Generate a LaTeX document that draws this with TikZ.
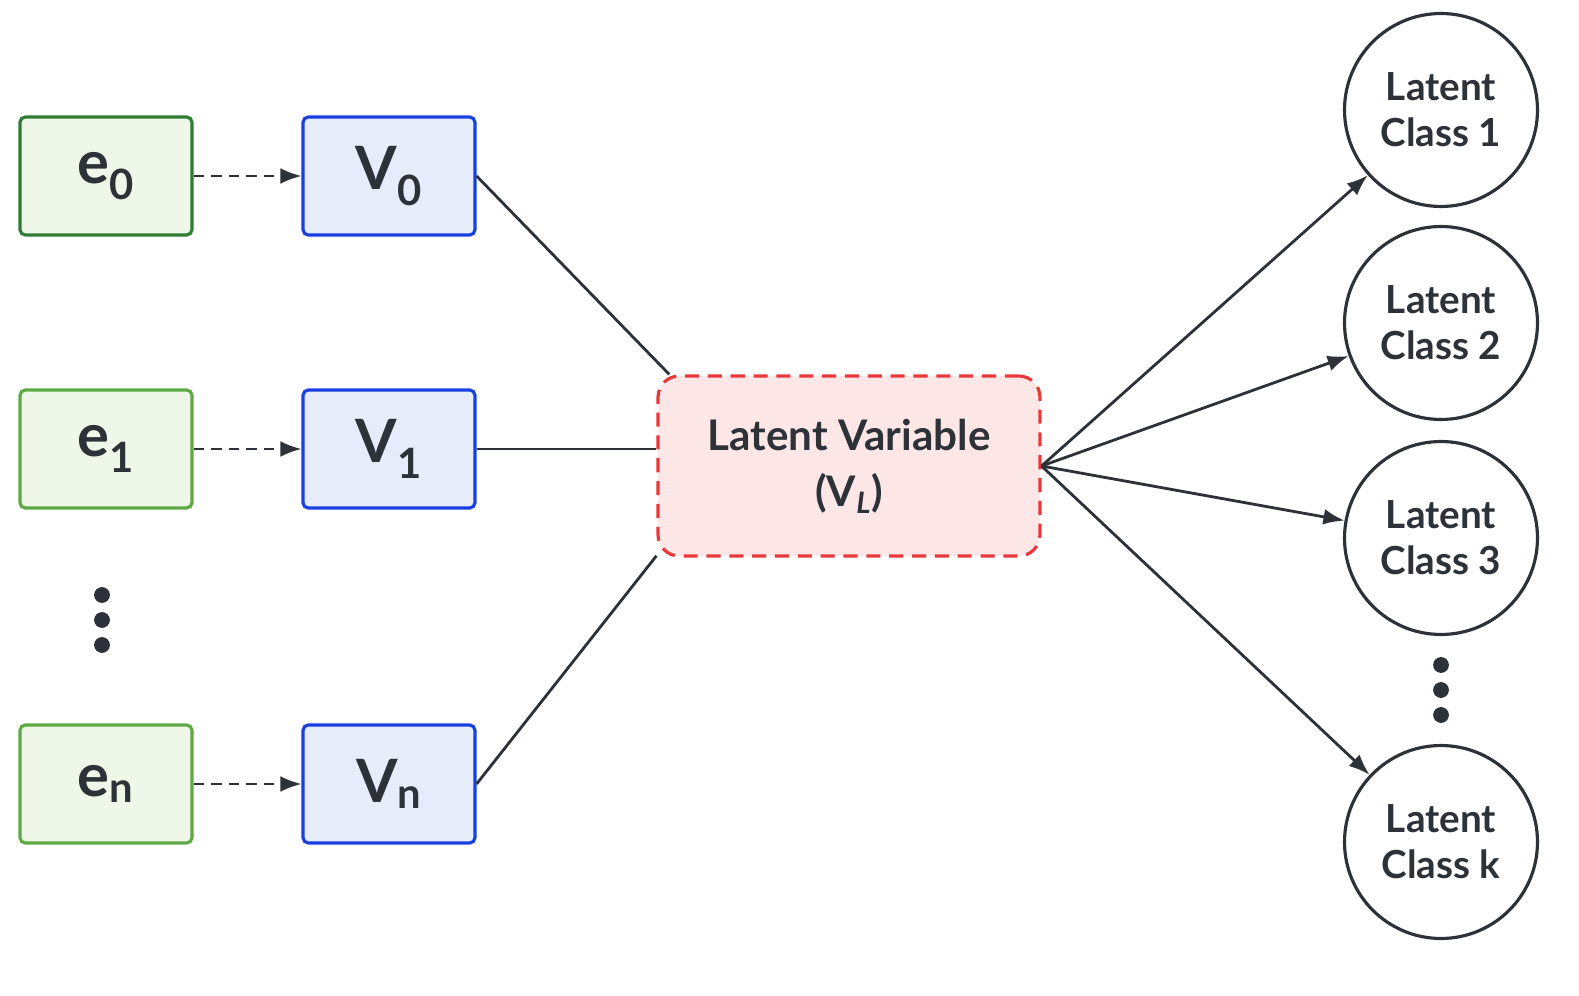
\documentclass[tikz,border=0pt]{standalone}
\usepackage{fontspec}
\setmainfont{Lato}
\usetikzlibrary{arrows.meta,positioning}
\definecolor{egreen}{HTML}{2E7D32}
\definecolor{lgreen}{HTML}{5DAA45}
\definecolor{gfill}{HTML}{EEF7E8}
\definecolor{vblue}{HTML}{1A3FE0}
\definecolor{bfill}{HTML}{E6ECFA}
\definecolor{lred}{HTML}{E8383A}
\definecolor{rfill}{HTML}{FDE7E6}
\definecolor{ink}{HTML}{2D3138}
\begin{document}
\begin{tikzpicture}[x=0.02cm,y=-0.02cm,font=\bfseries,text=ink,
  ebox/.style={draw=lgreen,fill=gfill,line width=1.8pt,rounded corners=3pt,minimum width=3.44cm,minimum height=2.36cm,font=\fontsize{34}{36}\selectfont\bfseries},
  vbox/.style={draw=vblue,fill=bfill,line width=1.8pt,rounded corners=3pt,minimum width=3.44cm,minimum height=2.36cm,font=\fontsize{34}{36}\selectfont\bfseries},
  cls/.style={circle,draw=ink,line width=1.8pt,minimum size=3.86cm,align=center,font=\fontsize{22}{26}\selectfont\bfseries},
  link/.style={draw=ink,line width=1.6pt},
  arr/.style={link,-{Latex[length=12pt,width=9pt]}},
  dot/.style={circle,fill=ink,inner sep=0pt,minimum size=9pt}]
  \useasboundingbox (0,0) rectangle (1579,996);

  \node[ebox,draw=egreen] (e0) at (106,176) {e\textsubscript{0}};
  \node[ebox]             (e1) at (106,449) {e\textsubscript{1}};
  \node[ebox]             (en) at (106,784) {e\textsubscript{n}};
  \node[vbox] (v0) at (389,176) {V\textsubscript{0}};
  \node[vbox] (v1) at (389,449) {V\textsubscript{1}};
  \node[vbox] (vn) at (389,784) {V\textsubscript{n}};
  \foreach \y [count=\i] in {595,620,645} \node[dot] (ld\i) at (102,\y) {};

  \node[draw=lred,fill=rfill,dashed,dash pattern=on 8pt off 5pt,line width=1.8pt,rounded corners=12pt,
    minimum width=7.64cm,minimum height=3.6cm,align=center,font=\fontsize{24}{32}\selectfont\bfseries]
    (lv) at (849,466) {Latent Variable\\(V\textsubscript{\itshape L})};

  \node[cls] (c1) at (1441,110) {Latent\\Class 1};
  \node[cls] (c2) at (1441,323) {Latent\\Class 2};
  \node[cls] (c3) at (1441,538) {Latent\\Class 3};
  \node[cls] (ck) at (1441,842) {Latent\\Class k};
  \foreach \y [count=\i] in {665,690,715} \node[dot] (rd\i) at (1441,\y) {};

  \foreach \a/\b in {e0/v0,e1/v1,en/vn}
    \draw[arr,line width=1.3pt,dashed,dash pattern=on 6pt off 4pt] (\a) -- (\b);
  \draw[link] (v0.east) -- (lv.153);
  \draw[link] (v1.east) -- (v1.east -| lv.west);
  \draw[link] (vn.east) -- (lv.205);
  \foreach \c in {c1,c2,c3,ck}
    \draw[arr] (lv.east) -- (\c);
\end{tikzpicture}
\end{document}
